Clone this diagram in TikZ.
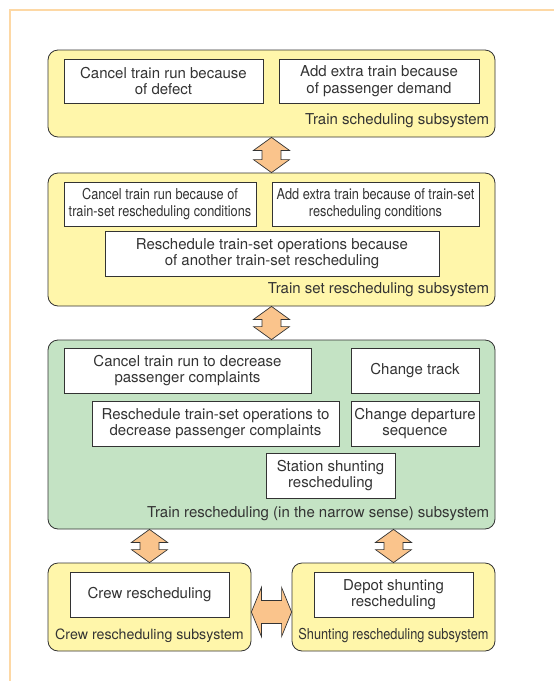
\documentclass[tikz,border=0pt]{standalone}
\usepackage{xcolor}
\usepackage{fontspec}
\setmainfont{TeX Gyre Heros}
\newfontfamily\narrowfont[FakeStretch=0.85]{TeX Gyre Heros}
\usepackage{tikz}
\usetikzlibrary{calc}

\definecolor{subyellow}{RGB}{255,246,170}
\definecolor{subgreen}{RGB}{196,227,196}
\definecolor{fatorange}{RGB}{250,196,140}
\definecolor{framecol}{RGB}{253,216,165}
\definecolor{inkgray}{RGB}{51,51,51}

\newcommand{\vfat}[2]{%
  \path[fat] let \p1=#1, \p2=#2 in
    (\x1,\y1) -- (\x1+18pt,\y1-13pt) -- (\x1+9.5pt,\y1-13pt) -- (\x1+9.5pt,\y2+13pt)
    -- (\x1+18pt,\y2+13pt) -- (\x1,\y2) -- (\x1-18pt,\y2+13pt) -- (\x1-9.5pt,\y2+13pt)
    -- (\x1-9.5pt,\y1-13pt) -- (\x1-18pt,\y1-13pt) -- cycle;}
\newcommand{\hfat}[2]{%
  \path[fat] let \p1=#1, \p2=#2 in
    (\x1,\y1) -- (\x1+10pt,\y1+24.5pt) -- (\x1+10pt,\y1+11.5pt) -- (\x2-10pt,\y1+11.5pt)
    -- (\x2-10pt,\y1+24.5pt) -- (\x2,\y1) -- (\x2-10pt,\y1-24.5pt) -- (\x2-10pt,\y1-11.5pt)
    -- (\x1+10pt,\y1-11.5pt) -- (\x1+10pt,\y1-24.5pt) -- cycle;}

\begin{document}
\begin{tikzpicture}[x=1pt,y=-1pt,
    subsys/.style={draw=inkgray,line width=0.8pt,rounded corners=10pt,inner sep=0pt},
    item/.style={draw=inkgray,line width=0.8pt,fill=white,inner sep=0pt,align=center,
        text=inkgray,font=\fontsize{15}{16.5}\selectfont},
    narrow/.style={font=\narrowfont\fontsize{15}{16.5}\selectfont},
    sublabel/.style={text=inkgray,inner sep=0pt,font=\fontsize{15}{16.5}\selectfont},
    fat/.style={draw=inkgray,line width=0.7pt,fill=fatorange,line join=miter}]
        \useasboundingbox[fill=white] (0,0) rectangle (554,681);
        \draw[framecol,line width=1.5pt] (554,10) -- (10,10) -- (10,681);

        \node[subsys,fill=subyellow,minimum width=447,minimum height=87] (ts) at (271.5,93.5) {};
        \node[item,minimum width=199,minimum height=44] (tsA) at (163.5,81) {Cancel train run because\\of defect};
        \node[item,minimum width=200,minimum height=44] (tsB) at (379,81) {Add extra train because\\of passenger demand};
        \node[sublabel,anchor=base east] (tsL) at ([xshift=-6pt,yshift=13pt]ts.south east) {Train scheduling subsystem};

        \node[subsys,fill=subyellow,minimum width=447,minimum height=133] (tss) at (271.5,239.5) {};
        \node[item,narrow,minimum width=192,minimum height=44] (tssA) at (160,204) {Cancel train run because of\\train-set rescheduling conditions};
        \node[item,narrow,minimum width=207,minimum height=44] (tssB) at (375.5,204) {Add extra train because of train-set\\rescheduling conditions};
        \node[item,minimum width=334,minimum height=45] (tssC) at (272,253.5) {Reschedule train-set operations because\\of another train-set rescheduling};
        \node[sublabel,anchor=base east] (tssL) at ([xshift=-6pt,yshift=13pt]tss.south east) {Train set rescheduling subsystem};

        \node[subsys,fill=subgreen,minimum width=447,minimum height=189] (tr) at (271.5,434.5) {};
        \node[item,minimum width=247,minimum height=45] (trA) at (187.5,370.5) {Cancel train run to decrease\\passenger complaints};
        \node[item,minimum width=128,minimum height=45] (trB) at (415,370.5) {Change track};
        \node[item,minimum width=247,minimum height=45] (trC) at (215.5,423.5) {Reschedule train-set operations to\\decrease passenger complaints};
        \node[item,minimum width=128,minimum height=45] (trD) at (415,423.5) {Change departure\\sequence};
        \node[item,minimum width=129,minimum height=45] (trE) at (330.5,475.5) {Station shunting\\rescheduling};
        \node[sublabel,anchor=base east] (trL) at ([xshift=-6pt,yshift=12pt]tr.south east) {Train rescheduling (in the narrow sense) subsystem};

        \node[subsys,fill=subyellow,minimum width=203,minimum height=88] (cr) at (149.5,607) {};
        \node[item,minimum width=159,minimum height=45] (crA) at (149.5,594.5) {Crew rescheduling};
        \node[sublabel,font=\fontsize{14.2}{16}\selectfont,anchor=base] (crL) at ([yshift=12pt]cr.south) {Crew rescheduling subsystem};

        \node[subsys,fill=subyellow,minimum width=203,minimum height=88] (sh) at (393.5,607) {};
        \node[item,minimum width=159,minimum height=45] (shA) at (393.5,594.5) {Depot shunting\\rescheduling};
        \node[sublabel,narrow,anchor=base] (shL) at ([yshift=12pt]sh.south) {Shunting rescheduling subsystem};

        \vfat{(ts.south)}{(tss.north)}
        \vfat{(tss.south)}{(tr.north)}
        \vfat{(cr.north |- tr.south)}{(cr.north)}
        \vfat{(sh.north |- tr.south)}{(sh.north)}
        \hfat{([yshift=-5pt]cr.east)}{([yshift=-5pt]sh.west)}
    \end{tikzpicture}
\end{document}
